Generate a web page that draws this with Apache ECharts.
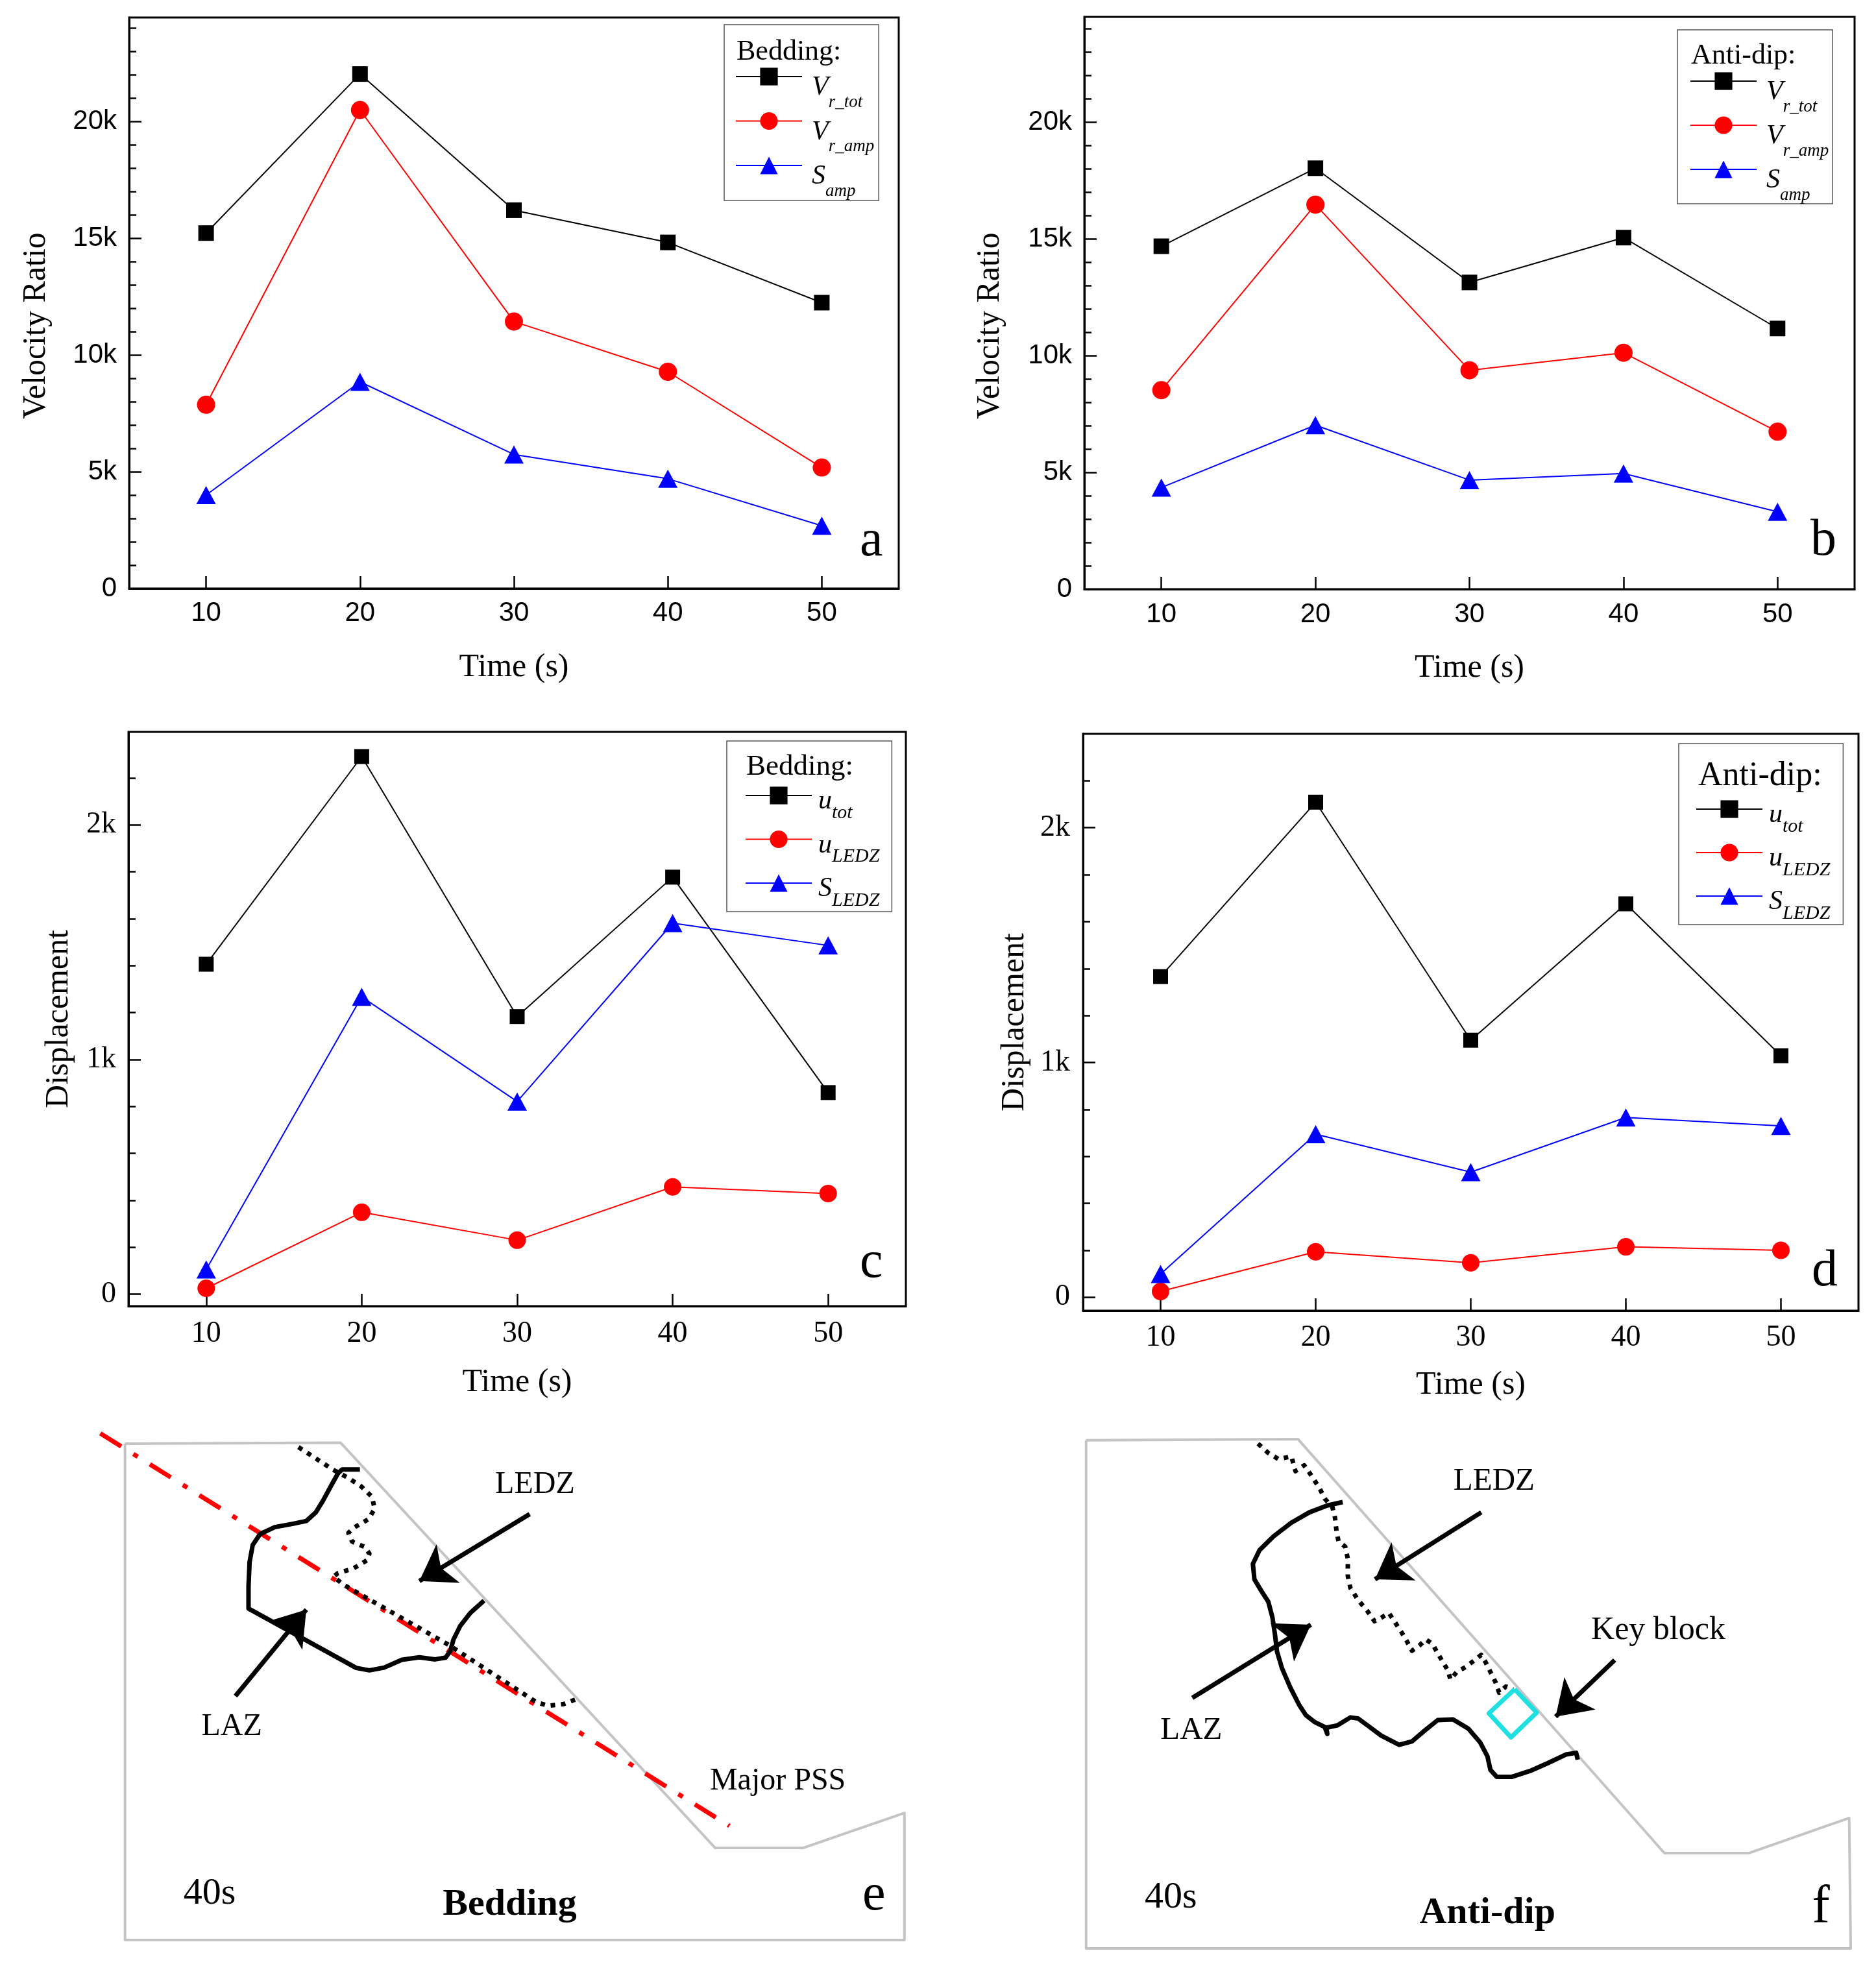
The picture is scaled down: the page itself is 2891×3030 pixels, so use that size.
<!DOCTYPE html>
<html><head><meta charset="utf-8">
<script src="https://cdn.jsdelivr.net/npm/echarts@6/dist/echarts.min.js"></script>
<style>html,body{margin:0;padding:0;background:#fff}#c{width:2891px;height:3030px}</style>
</head><body><div id="c"></div>
<script>
// ---------------- data ----------------
const timeCats = [10, 20, 30, 40, 50];
const xTickValues = [10, 20, 30, 40, 50];

// (a) Bedding velocity ratio
const vrTotBedding = [15220, 22030, 16200, 14820, 12240];
const vrAmpBedding = [7870, 20490, 11430, 9280, 5180];
const sAmpBedding  = [4000, 8850, 5740, 4700, 2690];
// (b) Anti-dip velocity ratio
const vrTotAnti = [14680, 18020, 13130, 15050, 11160];
const vrAmpAnti = [8520, 16460, 9370, 10120, 6740];
const sAmpAnti  = [4350, 7020, 4670, 4950, 3310];
// (c) Bedding displacement
const uTotBedding  = [1406, 2291, 1183, 1777, 859];
const uLedzBedding = [25, 349, 230, 457, 429];
const sLedzBedding = [105, 1267, 821, 1581, 1486];
// (d) Anti-dip displacement
const uTotAnti  = [1366, 2109, 1095, 1676, 1029];
const uLedzAnti = [25, 194, 147, 215, 200];
const sLedzAnti = [99, 695, 533, 766, 730];

// tick values / labels
const vrTickValues = [0, 5000, 10000, 15000, 20000];
const vrTickLabels = ['0', '5k', '10k', '15k', '20k'];
const vrMinorTicks = [1000, 2000, 3000, 4000, 6000, 7000, 8000, 9000, 11000, 12000, 13000, 14000, 16000, 17000, 18000, 19000, 21000, 22000, 23000, 24000];
const dispTickValues = [0, 1000, 2000];
const dispTickLabels = ['0', '1k', '2k'];
const dispMinorTicks = [200, 400, 600, 800, 1200, 1400, 1600, 1800, 2200];

// legend names -> [main, subscript]
const legendText = {
  Vr_tot: ['V', 'r_tot'], Vr_amp: ['V', 'r_amp'], S_amp: ['S', 'amp'],
  u_tot: ['u', 'tot'], u_LEDZ: ['u', 'LEDZ'], S_LEDZ: ['S', 'LEDZ']
};

// ---------------- schematic sketches (sketch units 0..1568) ----------------
const eOutline = [[65,85],[475,82],[1188,1262],[1355,1262],[1548,1160],[1548,1530],[65,1530],[65,85]];
const ePSS = [[18,55],[1215,1198]];
const eLAZ = [[512,160],[478,160],[470,172],[458,205],[442,250],[428,285],[410,310],[385,318],[350,328],[322,348],[308,380],[302,430],[300,500],[300,565],[505,738],[530,745],[558,737],[592,714],[625,707],[655,713],[675,708],[684,688],[690,655],[703,615],[722,578],[748,542]];
const eLEDZ = [[395,95],[425,125],[460,160],[490,185],[515,210],[535,240],[540,275],[528,305],[500,330],[490,345],[497,370],[520,385],[530,405],[525,425],[500,448],[470,462],[462,472],[480,495],[520,530],[560,565],[600,600],[640,635],[680,670],[720,710],[760,750],[800,790],[830,820],[848,838],[870,848],[900,843],[930,825]];
const eArrows = [[[835,290],[625,485]], [[275,820],[410,568]]];
const eTextNames = ['LEDZ', 'LAZ', 'Major PSS', '40s', 'Bedding', 'e'];
const eTextPos = [[845,205],[268,910],[1307,1069],[226,1396],[797,1428],[1490,1402]];

const fOutline = [[30,75],[443,72],[1157,1277],[1322,1277],[1517,1175],[1520,1555],[30,1555],[30,75]];
const fLEDZ = [[365,85],[385,112],[405,130],[430,122],[438,165],[455,148],[470,180],[485,215],[495,245],[510,270],[515,300],[518,340],[522,370],[535,385],[540,420],[540,470],[545,505],[560,540],[578,572],[592,602],[605,592],[620,578],[632,605],[645,635],[655,660],[665,688],[680,672],[692,655],[705,668],[715,695],[725,720],[735,745],[740,772],[752,750],[770,735],[790,712],[800,700],[808,720],[818,750],[828,780],[835,810],[848,792],[862,800]];
const fLAZ = [[530,255],[500,265],[465,285],[430,315],[395,355],[368,395],[355,435],[358,480],[372,515],[385,545],[393,590],[398,640],[402,690],[412,740],[428,795],[445,845],[458,875],[475,895],[495,910],[500,930],[498,912],[520,905],[545,882],[560,885],[578,905],[605,935],[640,962],[665,952],[690,920],[715,890],[745,888],[775,915],[798,955],[812,995],[818,1035],[830,1055],[860,1055],[895,1038],[930,1015],[965,990],[985,985],[988,1005]];
const fKeyBlock = [[865,800],[908,868],[858,940],[815,870],[865,800]];
const fArrows = [[[800,285],[593,480]], [[237,825],[468,612]], [[1060,715],[945,880]]];
const fTextNames = ['LEDZ', 'Key block', 'LAZ', '40s', 'Anti-dip', 'f'];
const fTextPos = [[825,195],[1145,628],[235,920],[195,1407],[812,1452],[1462,1439]];

// ---------------- helpers ----------------
const SERIF = 'Liberation Serif';
const SANS = 'Liberation Sans';
const BLACK = '#000000', RED = '#ff0000', BLUE = '#0000ff';

function pairs(vals) { return timeCats.map((t, i) => [t, vals[i]]); }

function dataSeries(name, vals, color, symbol, size, xi, yi) {
  return {
    type: 'line', name, data: pairs(vals), xAxisIndex: xi, yAxisIndex: yi,
    symbol, symbolSize: size, showAllSymbol: true,
    lineStyle: { color, width: 2 }, itemStyle: { color, opacity: 1 },
    animation: false, z: 3
  };
}

function xAx(gi, font, fsize, margin, nameGap) {
  return {
    type: 'value', gridIndex: gi, min: 5, max: 55,
    name: 'Time (s)', nameLocation: 'middle', nameGap,
    nameTextStyle: { fontFamily: SERIF, fontSize: 50, color: BLACK },
    axisLine: { show: true, onZero: false, lineStyle: { color: BLACK, width: 3 } },
    axisTick: { show: true, inside: true, length: 19, customValues: xTickValues, lineStyle: { color: BLACK, width: 2.5 } },
    axisLabel: { customValues: xTickValues, fontFamily: font, fontSize: fsize, color: BLACK, margin, formatter: v => String(v) },
    splitLine: { show: false }
  };
}

function yAxMain(gi, min, max, name, nameGap, namePad, ticks, labels, font, fsize, margin, labelPad) {
  return {
    type: 'value', gridIndex: gi, min, max, position: 'left',
    name, nameLocation: 'middle', nameGap, nameRotate: 90,
    nameTextStyle: { fontFamily: SERIF, fontSize: 50, color: BLACK, padding: namePad },
    axisLine: { show: true, onZero: false, lineStyle: { color: BLACK, width: 3 } },
    axisTick: { show: true, inside: true, length: 19, customValues: ticks, lineStyle: { color: BLACK, width: 2.5 } },
    axisLabel: { customValues: ticks, fontFamily: font, fontSize: fsize, color: BLACK, margin, padding: labelPad,
      formatter: v => { const i = ticks.indexOf(v); return i >= 0 ? labels[i] : ''; } },
    splitLine: { show: false }
  };
}

function yAxMinor(gi, min, max, minor) {
  return {
    type: 'value', gridIndex: gi, min, max, position: 'left', offset: 0,
    axisLine: { show: false },
    axisTick: { show: true, inside: true, length: 11, customValues: minor, lineStyle: { color: BLACK, width: 2.5 } },
    axisLabel: { show: false },
    splitLine: { show: false }
  };
}

function legendFormatter(name) {
  const t = legendText[name];
  return '{m|' + t[0] + '}{s|' + t[1] + '}';
}

const richAB = {
  m: { fontFamily: SERIF, fontStyle: 'italic', fontSize: 42, lineHeight: 44, padding: [18, 0, 0, 10], verticalAlign: 'top', color: BLACK },
  s: { fontFamily: SERIF, fontStyle: 'italic', fontSize: 27, lineHeight: 28, padding: [48, 0, 0, 0], verticalAlign: 'top', color: BLACK }
};
const richCD = {
  m: { fontFamily: SERIF, fontStyle: 'italic', fontSize: 42, lineHeight: 44, padding: [10, 0, 0, 5], verticalAlign: 'top', color: BLACK },
  s: { fontFamily: SERIF, fontStyle: 'italic', fontSize: 30, lineHeight: 30, padding: [34, 0, 0, 0], verticalAlign: 'top', color: BLACK }
};

function legend(names, left, top, padding, gap, rich) {
  return {
    data: names, orient: 'vertical', left, top, padding, itemGap: gap,
    itemWidth: 102, itemHeight: 34, align: 'left',
    borderColor: '#555555', borderWidth: 1.5, backgroundColor: 'transparent',
    selectedMode: false, formatter: legendFormatter,
    textStyle: { rich }
  };
}

function titleText(text, left, top, size, weight) {
  return { text, left, top, padding: 0,
    textStyle: { fontFamily: SERIF, fontSize: size, lineHeight: size, fontWeight: weight || 'normal', color: BLACK } };
}

function sketchLine(data, xi, yi, color, width, type, z) {
  return { type: 'line', data, xAxisIndex: xi, yAxisIndex: yi, symbol: 'none', silent: true, animation: false,
    lineStyle: { color, width, type: type || 'solid', cap: 'butt', join: 'round' }, z: z || 2 };
}

function sketchArrows(list, xi, yi) {
  return { type: 'lines', coordinateSystem: 'cartesian2d', xAxisIndex: xi, yAxisIndex: yi, silent: true, animation: false,
    symbol: ['none', 'arrow'], symbolSize: 52,
    lineStyle: { color: BLACK, width: 7, opacity: 1, curveness: 0 },
    data: list.map(c => ({ coords: c })), z: 5 };
}

function sketchLabels(names, pos, styles, xi, yi) {
  return { type: 'scatter', xAxisIndex: xi, yAxisIndex: yi, symbolSize: 1, silent: true, animation: false,
    itemStyle: { color: '#ffffff', opacity: 1 },
    label: { show: true, position: 'inside', color: BLACK, opacity: 1 },
    data: names.map((n, i) => ({ name: n, value: pos[i],
      label: Object.assign({ show: true, position: 'inside', formatter: '{b}', color: BLACK, opacity: 1,
        textBorderWidth: 0, fontFamily: SERIF }, styles[i]) })),
    z: 6 };
}

function sketchAxes(gi) {
  return {
    x: { type: 'value', gridIndex: gi, min: 0, max: 1568, show: false },
    y: { type: 'value', gridIndex: gi, min: 0, max: 1568, inverse: true, show: false }
  };
}

const se = sketchAxes(4), sf = sketchAxes(5);

const option = {
  backgroundColor: '#ffffff',
  animation: false,
  grid: [
    { left: 199, top: 27, width: 1186, height: 880, show: true, borderColor: BLACK, borderWidth: 3 },
    { left: 1671, top: 26, width: 1187, height: 882, show: true, borderColor: BLACK, borderWidth: 3 },
    { left: 198, top: 1128, width: 1198, height: 885, show: true, borderColor: BLACK, borderWidth: 3 },
    { left: 1669, top: 1131, width: 1195, height: 889, show: true, borderColor: BLACK, borderWidth: 3 },
    { left: 140, top: 2180, width: 1270, height: 830, show: false },
    { left: 1650, top: 2180, width: 1240, height: 830, show: false }
  ],
  xAxis: [
    xAx(0, SANS, 42, 17, 97),
    xAx(1, SANS, 42, 18, 97),
    xAx(2, SERIF, 46, 20, 93),
    xAx(3, SERIF, 46, 19, 90),
    se.x, sf.x
  ],
  yAxis: [
    yAxMain(0, 0, 24450, 'Velocity Ratio', 118, [0, 70, 0, 0], vrTickValues, vrTickLabels, SANS, 42, 19, 0),
    yAxMinor(0, 0, 24450, vrMinorTicks),
    yAxMain(1, 0, 24500, 'Velocity Ratio', 120, [0, 70, 0, 0], vrTickValues, vrTickLabels, SANS, 42, 19, 0),
    yAxMinor(1, 0, 24500, vrMinorTicks),
    yAxMain(2, -51, 2396, 'Displacement', 82, 0, dispTickValues, dispTickLabels, SERIF, 46, 19, [16, 0, 0, 0]),
    yAxMinor(2, -51, 2396, dispMinorTicks),
    yAxMain(3, -57, 2400, 'Displacement', 80, 0, dispTickValues, dispTickLabels, SERIF, 46, 20, [16, 0, 0, 0]),
    yAxMinor(3, -57, 2400, dispMinorTicks),
    se.y, sf.y
  ],
  title: [
    titleText('Bedding:', 1135, 58, 44),
    titleText('Anti-dip:', 2606, 64, 44),
    titleText('Bedding:', 1150, 1160, 45),
    titleText('Anti-dip:', 2617, 1170, 52),
    titleText('a', 1325, 795, 80),
    titleText('b', 2790, 794, 80),
    titleText('c', 1325, 1907, 80),
    titleText('d', 2792, 1920, 80)
  ],
  legend: [
    legend(['Vr_tot', 'Vr_amp', 'S_amp'], 1116, 38, [58, 7, 1, 17], -6.5, richAB),
    legend(['Vr_tot', 'Vr_amp', 'S_amp'], 2585, 46, [57, 6, 0, 19], -7, richAB),
    legend(['u_tot', 'u_LEDZ', 'S_LEDZ'], 1120, 1142, [62, 19, 2, 28], 3.5, richCD),
    legend(['u_tot', 'u_LEDZ', 'S_LEDZ'], 2587, 1146, [79, 20, 2, 26], 3, richCD)
  ],
  series: [
    dataSeries('Vr_tot', vrTotBedding, BLACK, 'rect', 24, 0, 0),
    dataSeries('Vr_amp', vrAmpBedding, RED, 'circle', 28, 0, 0),
    dataSeries('S_amp', sAmpBedding, BLUE, 'triangle', [30, 28], 0, 0),
    dataSeries('Vr_tot', vrTotAnti, BLACK, 'rect', 24, 1, 2),
    dataSeries('Vr_amp', vrAmpAnti, RED, 'circle', 28, 1, 2),
    dataSeries('S_amp', sAmpAnti, BLUE, 'triangle', [30, 28], 1, 2),
    dataSeries('u_tot', uTotBedding, BLACK, 'rect', 23, 2, 4),
    dataSeries('u_LEDZ', uLedzBedding, RED, 'circle', 27, 2, 4),
    dataSeries('S_LEDZ', sLedzBedding, BLUE, 'triangle', [30, 28], 2, 4),
    dataSeries('u_tot', uTotAnti, BLACK, 'rect', 23, 3, 6),
    dataSeries('u_LEDZ', uLedzAnti, RED, 'circle', 27, 3, 6),
    dataSeries('S_LEDZ', sLedzAnti, BLUE, 'triangle', [30, 28], 3, 6),

    // sketch e
    sketchLine(eOutline, 4, 8, '#c4c4c4', 4, 'solid', 1),
    sketchLine(ePSS, 4, 8, RED, 7, [38, 22, 8, 22], 2),
    sketchLine(eLAZ, 4, 8, BLACK, 7, 'solid', 3),
    sketchLine(eLEDZ, 4, 8, BLACK, 7, [7, 9], 4),
    sketchArrows(eArrows, 4, 8),
    sketchLabels(eTextNames, eTextPos, [
      { fontSize: 48 }, { fontSize: 48 }, { fontSize: 48 }, { fontSize: 58 },
      { fontSize: 58, fontWeight: 'bold' }, { fontSize: 80 }
    ], 4, 8),

    // sketch f
    sketchLine(fOutline, 5, 9, '#c4c4c4', 4, 'solid', 1),
    sketchLine(fLAZ, 5, 9, BLACK, 7, 'solid', 3),
    sketchLine(fLEDZ, 5, 9, BLACK, 7, [7, 9], 4),
    sketchLine(fKeyBlock, 5, 9, '#1fe0e0', 7, 'solid', 4),
    sketchArrows(fArrows, 5, 9),
    sketchLabels(fTextNames, fTextPos, [
      { fontSize: 49 }, { fontSize: 50 }, { fontSize: 49 }, { fontSize: 58 },
      { fontSize: 58, fontWeight: 'bold' }, { fontSize: 82 }
    ], 5, 9)
  ]
};

const chart = echarts.init(document.getElementById('c'), null, { renderer: 'canvas' });
chart.setOption(option);
</script></body></html>
